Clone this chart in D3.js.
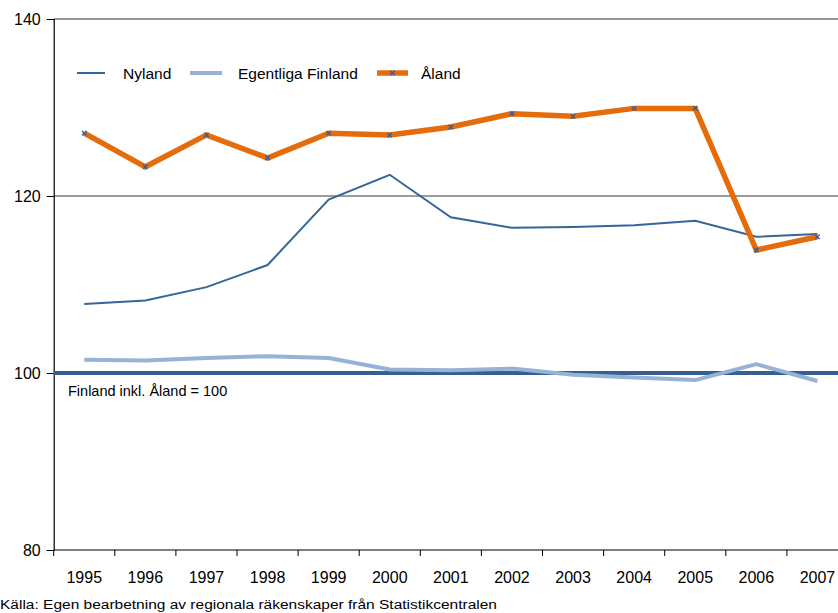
<!DOCTYPE html>
<html><head><meta charset="utf-8">
<script src="https://cdn.jsdelivr.net/npm/d3@7"></script>
<style>body{margin:0;background:#fff}svg{display:block}text{font-family:"Liberation Sans",Arial,sans-serif}</style>
</head><body>
<svg id="c" width="838" height="613"></svg>
<script>
const years = ["1995","1996","1997","1998","1999","2000","2001","2002","2003","2004","2005","2006","2007"];
const nyland = [107.8,108.2,109.7,112.2,119.6,122.4,117.6,116.4,116.5,116.7,117.2,115.4,115.7];
const egentliga = [101.5,101.4,101.7,101.9,101.7,100.4,100.3,100.5,99.8,99.5,99.2,101.0,99.1];
const aland = [127.1,123.3,126.9,124.3,127.1,126.9,127.8,129.3,129.0,129.9,129.9,113.9,115.4];
const yTicks = [80,100,120,140];
const seriesNames = ["Nyland","Egentliga Finland","Åland"];
const baseLabel = "Finland inkl. Åland = 100";
const source = "Källa: Egen bearbetning av regionala räkenskaper  från Statistikcentralen";

const svg = d3.select("#c");
const L = 53.7, R = 848, T = 19, B = 550;
const x = d3.scaleBand().domain(years).range([L, R]);
const y = d3.scaleLinear().domain([80,140]).range([B, T]);
const cx = d => x(d) + x.bandwidth()/2;

// gridlines
svg.append("line").attr("x1",L).attr("x2",838).attr("y1",y(120)).attr("y2",y(120)).attr("stroke","#7a7a7a").attr("stroke-width",1.5);
svg.append("line").attr("x1",L).attr("x2",838).attr("y1",y(140)).attr("y2",y(140)).attr("stroke","#333").attr("stroke-width",1.2);

// y axis
const ya = svg.append("g").attr("transform",`translate(${L},0)`).call(d3.axisLeft(y).tickValues(yTicks).tickSize(7).tickPadding(6));
ya.select(".domain").attr("stroke","#000").attr("stroke-width",1.2);
ya.selectAll(".tick line").attr("stroke","#000");
ya.selectAll("text").attr("font-size",16).attr("fill","#000").style("font-family","Liberation Sans, Arial, sans-serif");

// x axis
const xa = svg.append("g").attr("transform",`translate(0,${B})`).call(d3.axisBottom(x).tickSize(0).tickPadding(0));
xa.select(".domain").remove();
xa.selectAll("text").attr("font-size",16).attr("fill","#000").attr("dy",0).attr("y",33).style("font-family","Liberation Sans, Arial, sans-serif");
svg.append("line").attr("x1",L).attr("x2",838).attr("y1",B).attr("y2",B).attr("stroke","#000").attr("stroke-width",1.2);
svg.append("g").selectAll("line").data(years.slice(1)).join("line")
  .attr("x1",d=>x(d)).attr("x2",d=>x(d)).attr("y1",B).attr("y2",B+6).attr("stroke","#000");
svg.append("line").attr("x1",L).attr("x2",L).attr("y1",B).attr("y2",B+6).attr("stroke","#000");

const line = d3.line().x((d,i)=>cx(years[i])).y(d=>y(d));

// baseline 100
svg.append("line").attr("x1",L).attr("x2",838).attr("y1",y(100)).attr("y2",y(100)).attr("stroke","#365f91").attr("stroke-width",4);

svg.append("path").datum(egentliga).attr("d",line).attr("fill","none").attr("stroke","#95b3d7").attr("stroke-width",4).attr("stroke-linejoin","round");
svg.append("path").datum(nyland).attr("d",line).attr("fill","none").attr("stroke","#36659b").attr("stroke-width",2);
svg.append("path").datum(aland).attr("d",line).attr("fill","none").attr("stroke","#e46c0a").attr("stroke-width",5.5);

function cross(g, px, py){
  g.append("path").attr("d",`M${px-2.2},${py-2.2}L${px+2.2},${py+2.2}M${px-2.2},${py+2.2}L${px+2.2},${py-2.2}`).attr("stroke","#2f5fa8").attr("stroke-width",1.4);
}
const mg = svg.append("g");
aland.forEach((v,i)=>cross(mg, cx(years[i]), y(v)));

// legend
const lg = svg.append("g");
const ly = 73;
lg.append("line").attr("x1",77).attr("x2",105).attr("y1",ly).attr("y2",ly).attr("stroke","#36659b").attr("stroke-width",2);
lg.append("text").attr("x",123).attr("y",ly+5.5).attr("font-size",15.5).text(seriesNames[0]);
lg.append("line").attr("x1",190).attr("x2",222).attr("y1",ly).attr("y2",ly).attr("stroke","#95b3d7").attr("stroke-width",4);
lg.append("text").attr("x",238).attr("y",ly+5.5).attr("font-size",15.5).text(seriesNames[1]);
lg.append("line").attr("x1",377).attr("x2",408).attr("y1",ly).attr("y2",ly).attr("stroke","#e46c0a").attr("stroke-width",5.5);
cross(lg, 392.5, ly);
lg.append("text").attr("x",421).attr("y",ly+5.5).attr("font-size",15.5).text(seriesNames[2]);

svg.append("text").attr("x",68).attr("y",396).attr("font-size",14.5).text(baseLabel);
svg.append("text").attr("x",0).attr("y",609).attr("font-size",12.5).attr("textLength",497).attr("lengthAdjust","spacingAndGlyphs").text(source);
</script>
</body></html>
